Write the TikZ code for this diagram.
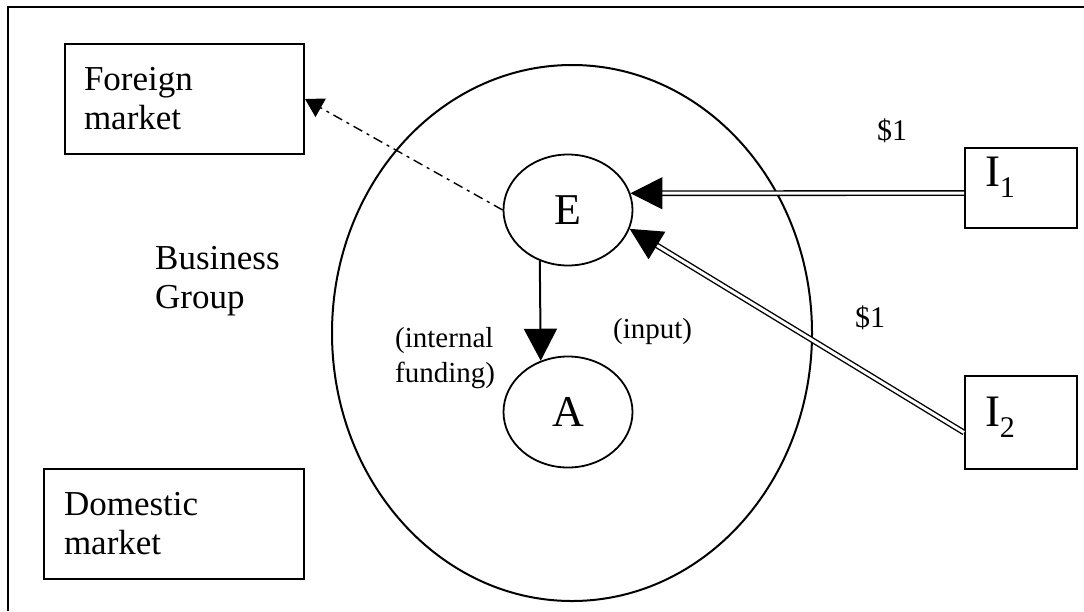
\documentclass[tikz,border=0pt]{standalone}
\usepackage{fontspec}
\setmainfont{Liberation Serif}
\usetikzlibrary{
  shapes.geometric,
  arrows.meta,
  positioning
}
\tikzset{
  market/.style={draw, line width=2pt, anchor=north west, align=left,
    minimum height=110pt, font=\fontsize{35}{39}\selectfont},
  firm/.style={draw, ellipse, line width=1.8pt, inner sep=0pt,
    minimum width=129pt, minimum height=111pt, font=\fontsize{44}{44}\selectfont},
  investor/.style={draw, line width=2pt, anchor=north west, align=left,
    text width=72pt, inner xsep=20pt, font=\fontsize{45}{45}\selectfont},
  lbl/.style={anchor=north west, inner sep=0pt, align=left},
  funds/.style={double, line width=1.4pt, double distance=3pt,
    -{Triangle[length=32pt, width=32pt]}},
  inner/.style={line width=2pt, -{Triangle[length=32pt, width=33pt]}},
  export/.style={line width=1.4pt, dash pattern=on 10pt off 5pt on 3pt off 5pt,
    -{Triangle[length=18pt, width=21pt]}}
}
\newcommand{\subidx}[1]{\raisebox{-11pt}{\fontsize{30}{30}\selectfont #1}}

\begin{document}
\begin{tikzpicture}[x=1pt, y=-1pt]
  \useasboundingbox (0,0) rectangle (1084,611);
  \draw[line width=2pt] (8,611) -- (8,7) -- (1084,7);

  \node[draw, ellipse, line width=2pt, minimum width=480pt, minimum height=536pt]
    (group) at (572,333) {};

  \node[market, text width=201pt, inner xsep=19pt] (fm) at (64,43) {Foreign\\market};
  \node[market, text width=220pt, inner xsep=20pt] (dm) at (43,468) {Domestic\\market};

  \node[firm] (E) at (568,210) {E};
  \node[firm] (A) at (568,412) {A};

  \node[investor, minimum height=80pt, text depth=32pt] (I1) at (964,147) {I\subidx{1}};
  \node[investor, minimum height=93pt, text depth=21pt] (I2) at (964,375) {I\subidx{2}};

  \node[lbl, font=\fontsize{35}{39}\selectfont] (biz) at (155,246) {Business\\Group};
  \node[lbl, font=\fontsize{29}{35}\selectfont] (fund) at (395,327) {(internal\\funding)};
  \node[lbl, font=\fontsize{29}{35}\selectfont] (inp) at (613,318) {(input)};
  \node[lbl, font=\fontsize{30}{30}\selectfont] (d1) at (877,119) {\$1};
  \node[lbl, font=\fontsize{30}{30}\selectfont] (d2) at (855,306) {\$1};

  \draw[funds] ([yshift=-5pt]I1.west) -- (E.15);
  \draw[funds] ([yshift=-10pt]I2.west) -- (E.-17);
  \draw[inner] (E.241) -- (A.118);
  \draw[export] (E.west) -- (fm.east);
\end{tikzpicture}
\end{document}
